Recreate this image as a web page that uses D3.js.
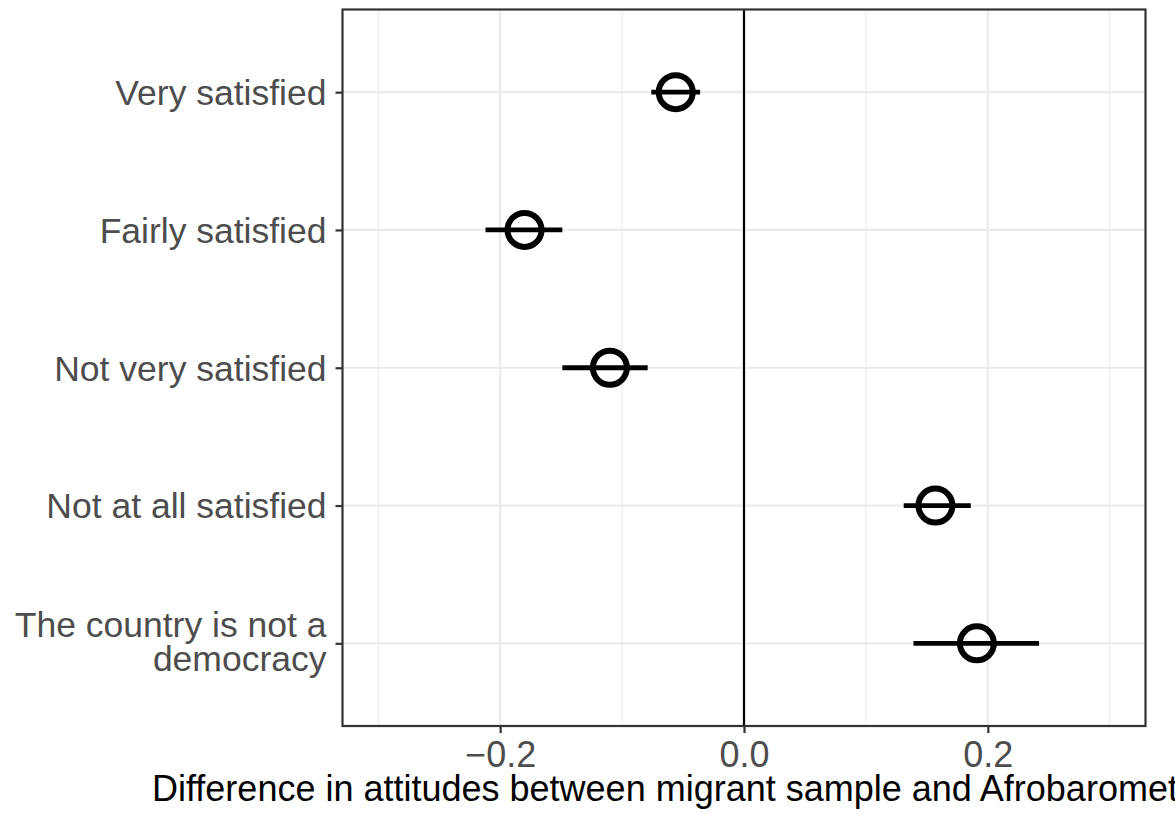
<!DOCTYPE html>
<html>
<head>
<meta charset="utf-8">
<script src="https://cdn.jsdelivr.net/npm/d3@7"></script>
<style>
  html, body { margin: 0; padding: 0; background: #fff; }
  svg { display: block; font-family: "Liberation Sans", Arial, Helvetica, sans-serif; }
</style>
</head>
<body>
<svg id="chart" width="1175" height="814"></svg>
<script>
// Satisfaction-with-democracy categories (top to bottom)
const categories = [
  "Very satisfied",
  "Fairly satisfied",
  "Not very satisfied",
  "Not at all satisfied",
  "The country is not a\ndemocracy"
];
// Point estimates and confidence bounds for each category
const estimates = [-0.056, -0.180, -0.110, 0.157, 0.191];
const lowerCI   = [-0.076, -0.212, -0.149, 0.131, 0.139];
const upperCI   = [-0.036, -0.149, -0.079, 0.186, 0.242];
// Axis ticks
const xMajorTicks = [-0.2, 0.0, 0.2];
const xMinorTicks = [-0.3, -0.1, 0.1, 0.3];
const xTickLabels = ["\u22120.2", "0.0", "0.2"];
const xTitle = "Difference in attitudes between migrant sample and Afrobarometer sample";

const svg = d3.select("#chart");
const panel = { left: 342.5, right: 1145.5, top: 9.5, bottom: 726 };
const FONT = "'Liberation Sans', Arial, Helvetica, sans-serif";

const x = d3.scaleLinear().domain([-0.3293, 0.3293]).range([panel.left, panel.right]);
const y = d3.scalePoint().domain(categories).range([panel.top, panel.bottom]).padding(0.6);

const rows = categories.map((c, i) => ({ cat: c, est: estimates[i], lo: lowerCI[i], hi: upperCI[i] }));

const grid = svg.append("g");
// minor vertical grid
grid.selectAll("line.minor").data(xMinorTicks).join("line")
  .attr("x1", d => x(d)).attr("x2", d => x(d))
  .attr("y1", panel.top).attr("y2", panel.bottom)
  .attr("stroke", "#ebebeb").attr("stroke-width", 1.1);
// major vertical grid
grid.selectAll("line.majorx").data(xMajorTicks).join("line")
  .attr("x1", d => x(d)).attr("x2", d => x(d))
  .attr("y1", panel.top).attr("y2", panel.bottom)
  .attr("stroke", "#ebebeb").attr("stroke-width", 2.2);
// major horizontal grid
grid.selectAll("line.majory").data(categories).join("line")
  .attr("x1", panel.left).attr("x2", panel.right)
  .attr("y1", d => y(d)).attr("y2", d => y(d))
  .attr("stroke", "#ebebeb").attr("stroke-width", 2.2);

// zero reference line
svg.append("line")
  .attr("x1", x(0)).attr("x2", x(0))
  .attr("y1", panel.top).attr("y2", panel.bottom)
  .attr("stroke", "#000").attr("stroke-width", 2.2);

// error bars
svg.append("g").selectAll("line").data(rows).join("line")
  .attr("x1", d => x(d.lo)).attr("x2", d => x(d.hi))
  .attr("y1", d => y(d.cat)).attr("y2", d => y(d.cat))
  .attr("stroke", "#000").attr("stroke-width", 4.8);

// point estimates
svg.append("g").selectAll("circle").data(rows).join("circle")
  .attr("cx", d => x(d.est)).attr("cy", d => y(d.cat))
  .attr("r", 17).attr("fill", "none")
  .attr("stroke", "#000").attr("stroke-width", 6);

// panel border
svg.append("rect")
  .attr("x", panel.left).attr("y", panel.top)
  .attr("width", panel.right - panel.left).attr("height", panel.bottom - panel.top)
  .attr("fill", "none").attr("stroke", "#333333").attr("stroke-width", 2.2);

// x axis
const xAxis = svg.append("g")
  .attr("transform", `translate(0,${panel.bottom})`)
  .call(d3.axisBottom(x).tickValues(xMajorTicks)
    .tickFormat((d, i) => xTickLabels[i]).tickSize(7).tickPadding(8));
xAxis.select(".domain").remove();
xAxis.selectAll(".tick line").attr("stroke", "#333333").attr("stroke-width", 2.2);
xAxis.selectAll(".tick text").attr("fill", "#4d4d4d").attr("font-size", 36)
  .attr("font-family", FONT);

// y axis
const yAxis = svg.append("g")
  .attr("transform", `translate(${panel.left},0)`)
  .call(d3.axisLeft(y).tickSize(7).tickPadding(8).tickFormat(""));
yAxis.select(".domain").remove();
yAxis.selectAll(".tick line").attr("stroke", "#333333").attr("stroke-width", 2.2);

// multi-line category labels, vertically centred on each tick
const lineH = 34;
yAxis.selectAll(".tick").each(function(d) {
  const lines = d.split("\n");
  const shift = lines.length > 1 ? -2.5 : 0;
  const t = d3.select(this).append("text")
    .attr("x", -16).attr("text-anchor", "end")
    .attr("fill", "#4d4d4d").attr("font-size", 35.5)
    .attr("font-family", FONT);
  lines.forEach((ln, i) => {
    t.append("tspan").attr("x", -16)
      .attr("y", (i - (lines.length - 1) / 2) * lineH + shift)
      .attr("dy", "0.35em").text(ln);
  });
});

// x axis title
svg.append("text")
  .attr("x", (panel.left + panel.right) / 2).attr("y", 801)
  .attr("text-anchor", "middle").attr("fill", "#000").attr("font-size", 36)
  .attr("font-family", FONT)
  .text(xTitle);
</script>
</body>
</html>
